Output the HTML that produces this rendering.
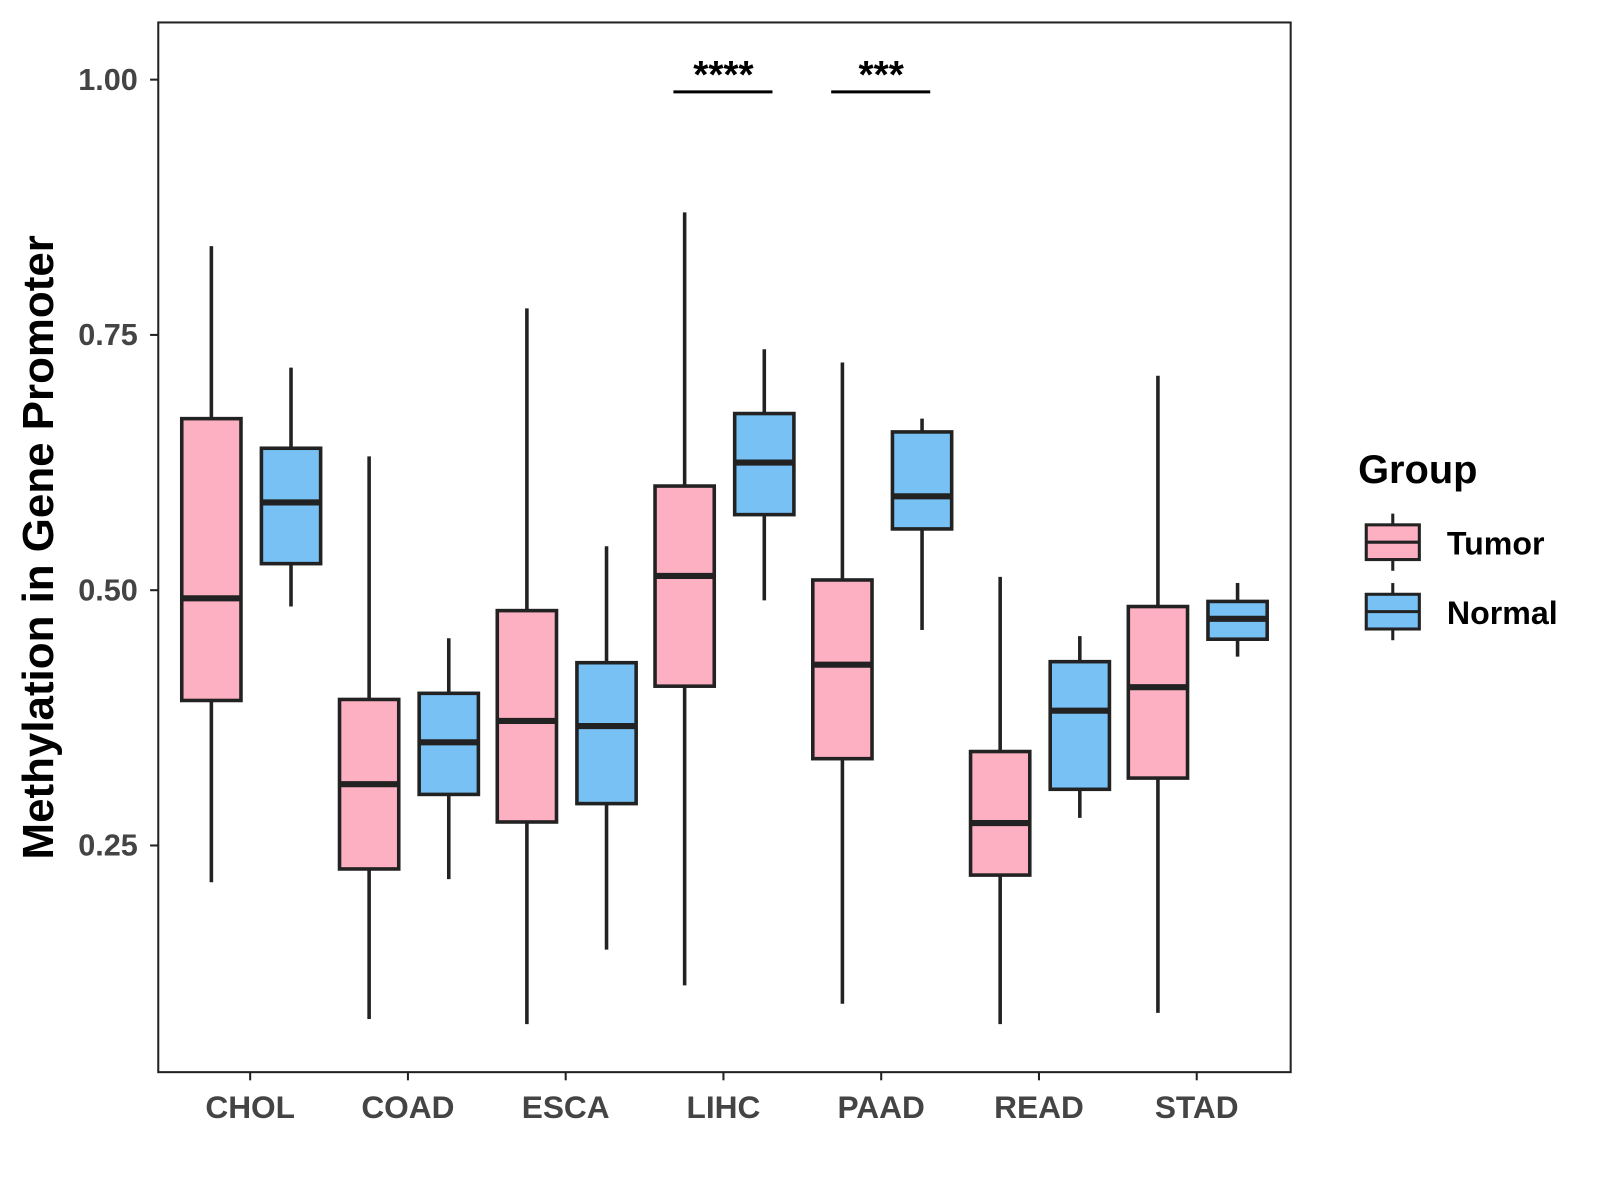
<!DOCTYPE html>
<html><head><meta charset="utf-8"><style>
body{margin:0;background:#fff;}
svg{display:block;font-family:"Liberation Sans",Arial,sans-serif;}
</style></head><body>
<svg id="chart" width="1600" height="1200" viewBox="0 0 1600 1200">
<g transform="scale(1.0211)">
<rect x="155" y="22" width="1109" height="1028" fill="#fff" stroke="#222" stroke-width="2"/>
<g id="marks"></g>
<g id="axes"></g>
<text x="0" y="0" transform="translate(52,536) rotate(-90)" text-anchor="middle" font-size="43" font-weight="bold" fill="#000">Methylation in Gene Promoter</text>
<g>
<text x="1330" y="473" font-size="39" font-weight="bold" fill="#000">Group</text>
<g>
<line x1="1364" y1="503" x2="1364" y2="559" stroke="#222" stroke-width="3"/>
<rect x="1338" y="514" width="52" height="34" fill="#FDB0C2" stroke="#222" stroke-width="3"/>
<line x1="1338" y1="531" x2="1390" y2="531" stroke="#222" stroke-width="3"/>
<text x="1417" y="543" font-size="31.5" font-weight="bold" fill="#000">Tumor</text></g>
<g>
<line x1="1364" y1="571" x2="1364" y2="627" stroke="#222" stroke-width="3"/>
<rect x="1338" y="582" width="52" height="34" fill="#77C1F5" stroke="#222" stroke-width="3"/>
<line x1="1338" y1="599" x2="1390" y2="599" stroke="#222" stroke-width="3"/>
<text x="1417" y="611" font-size="31.5" font-weight="bold" fill="#000">Normal</text></g>
</g>
</g>
</svg>
<script>
const categories=["CHOL","COAD","ESCA","LIHC","PAAD","READ","STAD"];
const groups=["Tumor","Normal"];
// [low, q1, median, q3, high]
const tumorStats=[[0.214,0.392,0.492,0.668,0.837],[0.080,0.227,0.310,0.393,0.631],[0.075,0.273,0.372,0.480,0.776],[0.113,0.406,0.514,0.602,0.870],[0.095,0.335,0.427,0.510,0.723],[0.075,0.221,0.272,0.342,0.513],[0.086,0.316,0.405,0.484,0.710]];
const normalStats=[[0.484,0.526,0.586,0.639,0.718],[0.217,0.300,0.351,0.399,0.453],[0.148,0.291,0.367,0.429,0.543],[0.490,0.574,0.625,0.673,0.736],[0.461,0.560,0.592,0.655,0.668],[0.277,0.305,0.382,0.430,0.455],[0.435,0.452,0.472,0.489,0.507]];
const yTicks=[0.25,0.50,0.75,1.00];
const yTickLabels=["0.25","0.50","0.75","1.00"];
const sigCategories=["LIHC","PAAD"];
const sigLabels=["****","***"];
const sigLevel=0.988;

const NS="http://www.w3.org/2000/svg";
const y=v=>1078-1000*v;
const x=i=>245+154.5*i;
const colors=["#FDB0C2","#77C1F5"];
const marks=document.getElementById("marks"), axes=document.getElementById("axes");
function mk(tag,attrs,parent){const e=document.createElementNS(NS,tag);for(const k in attrs)e.setAttribute(k,attrs[k]);parent.appendChild(e);return e;}
[tumorStats,normalStats].forEach((stats,g)=>{
  stats.forEach((s,i)=>{
    const cx=x(i)+(g===0?-38:40), w=58;
    const grp=mk("g",{},marks);
    
    
    mk("line",{x1:cx,x2:cx,y1:y(s[4]),y2:y(s[0]),stroke:"#222","stroke-width":3.5},grp);
    mk("rect",{x:cx-w/2,y:y(s[3]),width:w,height:y(s[1])-y(s[3]),fill:colors[g],stroke:"#222","stroke-width":3.5},grp);
    mk("line",{x1:cx-w/2,x2:cx+w/2,y1:y(s[2]),y2:y(s[2]),stroke:"#222","stroke-width":6},grp);
  });
});
yTicks.forEach((t,i)=>{
  const l=mk("line",{x1:147,x2:155,y1:y(t),y2:y(t),stroke:"#222","stroke-width":2},axes);
  
  
  const tx=mk("text",{x:135,y:y(t)+10,"text-anchor":"end","font-size":30,"font-weight":"bold",fill:"#444"},axes);
  tx.textContent=yTickLabels[i];
  
  
});
categories.forEach((c,i)=>{
  const l=mk("line",{x1:x(i),x2:x(i),y1:1050,y2:1058,stroke:"#222","stroke-width":2},axes);
  
  
  const tx=mk("text",{x:x(i),y:1095,"text-anchor":"middle","font-size":31,"font-weight":"bold",fill:"#444"},axes);
  tx.textContent=c;
  
  
});
sigCategories.forEach((c,k)=>{
  const i=categories.indexOf(c);
  const g=mk("g",{},marks);
  
  
  mk("line",{x1:x(i)-49,x2:x(i)+48,y1:y(sigLevel),y2:y(sigLevel),stroke:"#000","stroke-width":3},g);
  const t=mk("text",{x:x(i),y:y(sigLevel)-4,"text-anchor":"middle","font-size":38,"font-weight":"bold",fill:"#000"},g);
  t.textContent=sigLabels[k];
});
</script>
</body></html>
